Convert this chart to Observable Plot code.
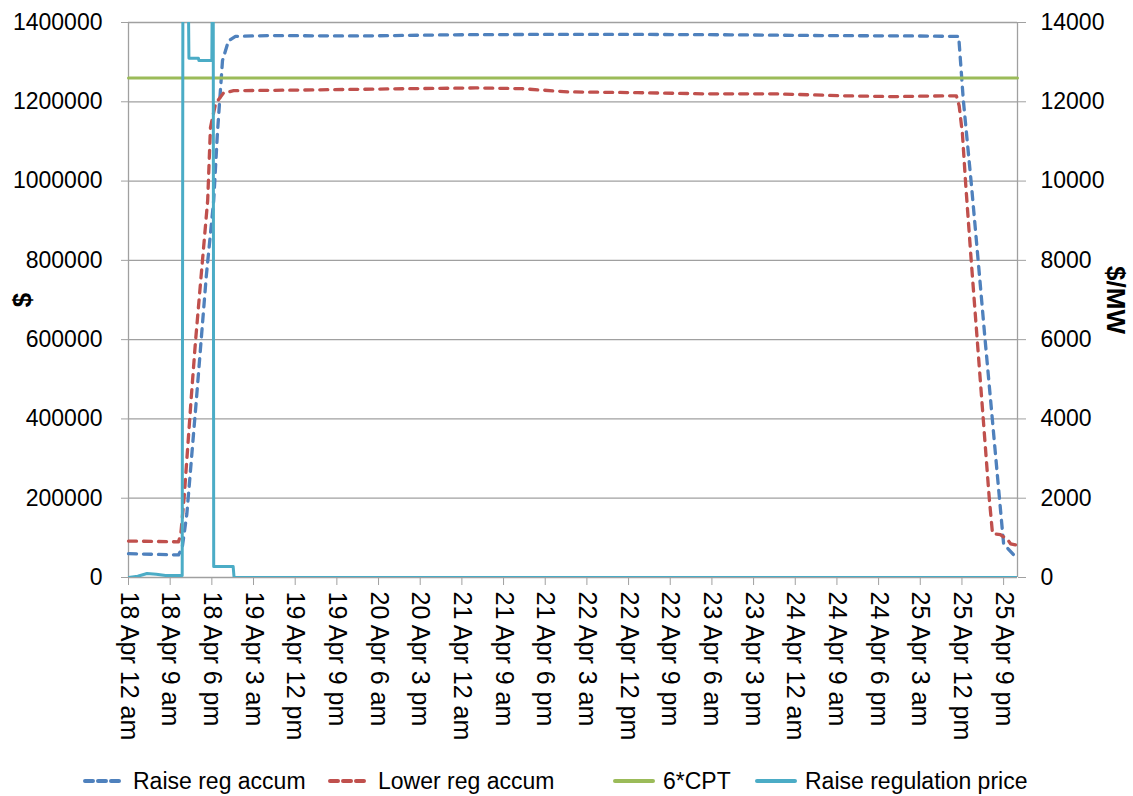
<!DOCTYPE html>
<html>
<head>
<meta charset="utf-8">
<script src="https://cdn.jsdelivr.net/npm/d3@7"></script>
<script src="https://cdn.jsdelivr.net/npm/@observablehq/plot@0.6"></script>
<style>
  html, body { margin: 0; padding: 0; background: #fff; }
  body { width: 1133px; height: 796px; overflow: hidden; font-family: "Liberation Sans", Arial, sans-serif; }
  #legend { position: relative; width: 1133px; height: 36px; font-size: 23px; color: #000; }
  .item { position: absolute; top: 3px; height: 36px; display: flex; align-items: center; white-space: nowrap; }
  .item svg { margin-right: 8px; }
</style>
</head>
<body>
<div id="chart"></div>
<div id="legend"></div>
<script>
// ---- Data (hours since 18 Apr 12 am, value) ----
const raiseRegAccum = [
  [0, 60000], [10.8, 57000], [11.6, 75000], [12.6, 160000], [13.6, 300000], [14.6, 440000],
  [15.7, 600000], [16.8, 760000], [18.4, 951000], [19.2, 1120000], [20.3, 1304000],
  [21.6, 1354000], [23.1, 1365000], [30, 1367000], [50, 1366000], [70, 1369000],
  [90, 1370000], [110, 1370000], [130, 1369000], [150, 1367000], [170, 1366000],
  [179.3, 1365000], [180.3, 1204000], [182.1, 984000], [183.5, 800000], [185, 600000],
  [186.2, 446000], [188.1, 200000], [189, 85000], [191.1, 58000]
];
const lowerRegAccum = [
  [0, 92000], [10.8, 90000], [11.3, 110000], [12, 200000], [12.8, 330000], [13.5, 446000],
  [14.5, 600000], [15.6, 749000], [17.1, 951000], [17.7, 1135000], [18.8, 1195000],
  [20.5, 1222000], [22.7, 1228000], [40, 1230000], [60, 1233000], [75, 1235000],
  [85, 1233000], [95, 1225000], [110, 1223000], [125, 1220000], [140, 1220000],
  [155, 1215000], [165, 1213000], [176, 1215000], [178.8, 1215000], [179.4, 1190000],
  [180.1, 1120000], [180.8, 994000], [182, 800000], [183.3, 600000], [184.3, 446000],
  [185.9, 200000], [186.6, 111000], [188.3, 108000], [189.9, 95000], [190.5, 85000], [191.6, 82000]
];
const cpt6 = [[0, 1260000], [192, 1260000]];
const raiseRegPrice = [
  [0, 0], [2, 30], [4, 100], [6, 80], [8, 50], [10.8, 50], [11.6, 50], [11.75, 15000],
  [12.9, 15000], [13.05, 13100], [15.1, 13100], [15.2, 13040], [18, 13040], [18.1, 15000],
  [18.3, 15000], [18.4, 280], [22.6, 280], [22.8, 0], [192, 0]
];
const leftTicks = [0, 200000, 400000, 600000, 800000, 1000000, 1200000, 1400000];
const rightTicks = [0, 2000, 4000, 6000, 8000, 10000, 12000, 14000];
const xTickHours = [0, 9, 18, 27, 36, 45, 54, 63, 72, 81, 90, 99, 108, 117, 126, 135, 144, 153, 162, 171, 180, 189];
const xTickLabels = [
  "18 Apr 12 am", "18 Apr 9 am", "18 Apr 6 pm", "19 Apr 3 am", "19 Apr 12 pm", "19 Apr 9 pm",
  "20 Apr 6 am", "20 Apr 3 pm", "21 Apr 12 am", "21 Apr 9 am", "21 Apr 6 pm", "22 Apr 3 am",
  "22 Apr 12 pm", "22 Apr 9 pm", "23 Apr 6 am", "23 Apr 3 pm", "24 Apr 12 am", "24 Apr 9 am",
  "24 Apr 6 pm", "25 Apr 3 am", "25 Apr 12 pm", "25 Apr 9 pm"
];
const xDomainHours = [0, 192];
const seriesNames = ["Raise reg accum", "Lower reg accum", "6*CPT", "Raise regulation price"];
const seriesColors = ["#4F81BD", "#C0504D", "#9BBB59", "#4BACC6"];

// ---- Helpers ----
const base = Date.UTC(2013, 3, 18, 0, 0, 0);
const toDate = h => new Date(base + h * 3600e3);
const labelByTime = new Map(xTickHours.map((h, i) => [+toDate(h), xTickLabels[i]]));
const RATIO = 100; // left / right axis ratio
const grid = "#a0a0a0";
const dash = "8,7";

const chart = Plot.plot({
  width: 1133,
  height: 760,
  marginTop: 22,
  marginBottom: 183,
  marginLeft: 128,
  marginRight: 116,
  style: { fontFamily: "'Liberation Sans', Arial, sans-serif", fontSize: "23px", color: "#000", background: "#fff", overflow: "visible" },
  x: { type: "utc", domain: xDomainHours.map(toDate) },
  y: { domain: [0, 1400000] },
  marks: [
    Plot.gridY(leftTicks, { stroke: grid, strokeOpacity: 1, strokeWidth: 1.3 }),
    Plot.ruleX(xDomainHours.map(toDate), { stroke: grid, strokeWidth: 1.3 }),
    Plot.axisY(leftTicks, { anchor: "left", tickSize: 7, tickPadding: 19, stroke: grid, fill: "#000", tickFormat: d => String(d), label: null }),
    Plot.axisY(rightTicks.map(v => v * RATIO), { anchor: "right", tickSize: 8, tickPadding: 15, stroke: grid, fill: "#000", tickFormat: d => String(d / RATIO), label: null }),
    Plot.axisX(xTickHours.map(toDate), { anchor: "bottom", tickSize: 8, tickPadding: 6, tickRotate: 90, fontSize: 25, stroke: grid, fill: "#000", tickFormat: d => labelByTime.get(+d), label: null }),
    Plot.line(raiseRegAccum, { x: d => toDate(d[0]), y: d => d[1], stroke: seriesColors[0], strokeWidth: 3.3, strokeDasharray: dash, strokeLinecap: "round" }),
    Plot.line(lowerRegAccum, { x: d => toDate(d[0]), y: d => d[1], stroke: seriesColors[1], strokeWidth: 3.3, strokeDasharray: dash, strokeLinecap: "round" }),
    Plot.line(cpt6, { x: d => toDate(d[0]), y: d => d[1], stroke: seriesColors[2], strokeWidth: 3 }),
    Plot.line(raiseRegPrice, { x: d => toDate(d[0]), y: d => d[1] * RATIO, stroke: seriesColors[3], strokeWidth: 3, clip: true }),
    Plot.text(["$"], { frameAnchor: "left", textAnchor: "middle", dx: -106, rotate: -90, fontWeight: "bold", fontSize: 26 }),
    Plot.text(["$/MW"], { frameAnchor: "right", textAnchor: "middle", dx: 98, rotate: 90, fontWeight: "bold", fontSize: 26 })
  ]
});
document.getElementById("chart").appendChild(chart);

// ---- Legend ----
const legendLeft = [83, 328, 613, 755];
const legend = document.getElementById("legend");
seriesNames.forEach((name, i) => {
  const item = document.createElement("div");
  item.className = "item";
  item.style.left = legendLeft[i] + "px";
  const dashed = i < 2;
  item.innerHTML = `<svg width="42" height="10"><line x1="2" y1="5" x2="40" y2="5" stroke="${seriesColors[i]}" stroke-width="4" stroke-linecap="round" ${dashed ? 'stroke-dasharray="8,5"' : ''}/></svg><span>${name}</span>`;
  legend.appendChild(item);
});
</script>
</body>
</html>
